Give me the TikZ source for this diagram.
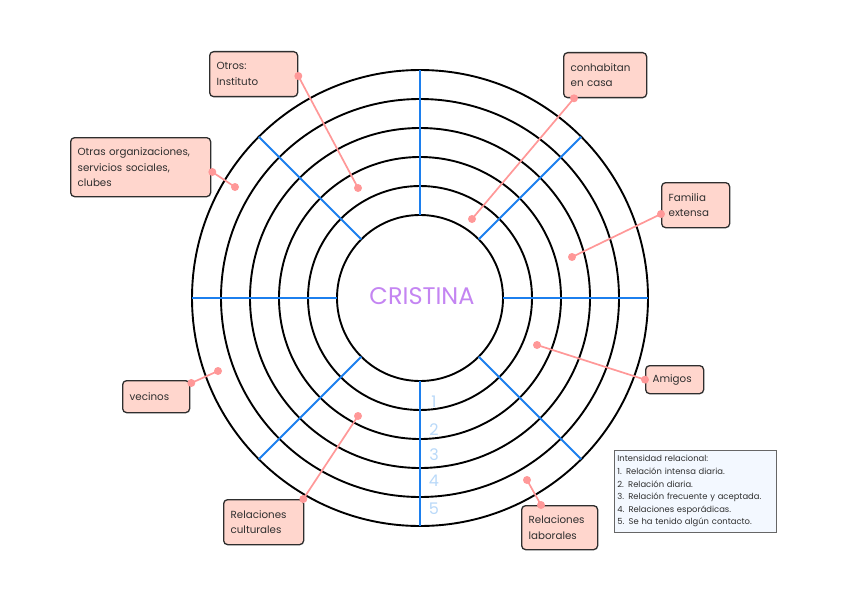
\documentclass[tikz,border=0pt]{standalone}
\usepackage{fontspec}
\setmainfont{Poppins}
\usetikzlibrary{calc}
\definecolor{boxfill}{HTML}{FFD6CD}
\definecolor{boxline}{HTML}{2E2E2E}
\definecolor{conncol}{HTML}{FF9898}
\definecolor{spokeblue}{HTML}{1C7FEE}
\definecolor{numblue}{HTML}{B9D9F9}
\definecolor{namecol}{HTML}{C485F2}
\definecolor{legfill}{HTML}{F3F8FF}
\definecolor{legline}{HTML}{666666}
\definecolor{txt}{HTML}{2F2F2F}
\begin{document}
\begin{tikzpicture}[x=1pt,y=-1pt,
  ring/.style={draw=black,line width=1.9pt},
  spoke/.style={draw=spokeblue,line width=1.9pt},
  tag/.style={draw=boxline,fill=boxfill,rounded corners=4pt,line width=1.3pt,
    font=\fontsize{10.3}{15.5}\selectfont,text=txt,align=left,anchor=north west,
    inner xsep=7pt,inner ysep=0pt},
  conn/.style={draw=conncol,line width=1.7pt},
  enddot/.style={fill=conncol},
  num/.style={text=numblue,font=\fontsize{16}{16}\selectfont},
  legendbox/.style={draw=legline,fill=legfill,line width=0.7pt,anchor=north west,
    font=\fontsize{8.4}{12.6}\selectfont,text=txt,align=left,inner xsep=3pt,inner ysep=0pt}
]
\useasboundingbox[fill=white] (0,0) rectangle (848,599);
\coordinate (c) at (420,298);

% rings
\foreach \r in {83,112,141,170,199,228}
  \draw[ring] (c) circle (\r);

% spokes
\foreach \a in {0,45,90,135,180,225,270,315}
  \draw[spoke] ($(c)+(\a:83)$) -- ($(c)+(\a:228)$);

% centre name
\node[text=namecol,font=\fontsize{24}{24}\selectfont] (name) at (422,296) {CRISTINA};

% ring numbers
\node[num] (n1) at (434,402) {1};
\node[num] (n2) at (434,430) {2};
\node[num] (n3) at (434,455) {3};
\node[num] (n4) at (434,481) {4};
\node[num] (n5) at (434,509) {5};

% label boxes
\node[tag,text width=74pt,minimum height=45pt] (otros) at (209,51) {Otros:\\Instituto};
\node[tag,text width=126pt,minimum height=59pt] (otras) at (70,137) {Otras organizaciones,\\servicios sociales,\\clubes};
\node[tag,text width=69pt,minimum height=45pt] (conh) at (563,52) {conhabitan\\en casa};
\node[tag,text width=54pt,minimum height=45pt] (fam) at (661,182) {Familia\\extensa};
\node[tag,text width=44pt,minimum height=28pt] (amigos) at (645,365) {Amigos};
\node[tag,text width=53pt,minimum height=32pt] (vecinos) at (122,380) {vecinos};
\node[tag,text width=66pt,minimum height=45pt] (cult) at (223,499) {Relaciones\\culturales};
\node[tag,text width=62pt,minimum height=44pt] (lab) at (521,505) {Relaciones\\laborales};

% legend
\node[legendbox,text width=156pt,minimum height=82pt] (legend) at (614,450)
  {Intensidad relacional:\\1. Relación intensa diaria.\\2. Relación diaria.\\3. Relación frecuente y aceptada.\\4. Relaciones esporádicas.\\5. Se ha tenido algún contacto.};

% inner end points
\coordinate (e1) at (358,188);
\coordinate (e2) at (235,187);
\coordinate (e3) at (472,219);
\coordinate (e4) at (572,257);
\coordinate (e5) at (537,345);
\coordinate (e6) at (218,371);
\coordinate (e7) at (358,416);
\coordinate (e8) at (527,480);

% box end points
\coordinate (b1) at ($(otros.north east)+(0,25)$);
\coordinate (b2) at ($(otras.north east)+(1,35)$);
\coordinate (b3) at ($(conh.south west)+(11,0)$);
\coordinate (b4) at ($(fam.north west)+(0,32)$);
\coordinate (b5) at ($(amigos.west)$);
\coordinate (b6) at ($(vecinos.north east)+(1,3)$);
\coordinate (b7) at ($(cult.north east)+(-1,0)$);
\coordinate (b8) at ($(lab.north west)+(20,0)$);

\foreach \i in {1,...,8}{
  \draw[conn] (b\i) -- (e\i);
  \fill[enddot] (b\i) circle (4);
  \fill[enddot] (e\i) circle (4);
}
\end{tikzpicture}
\end{document}
